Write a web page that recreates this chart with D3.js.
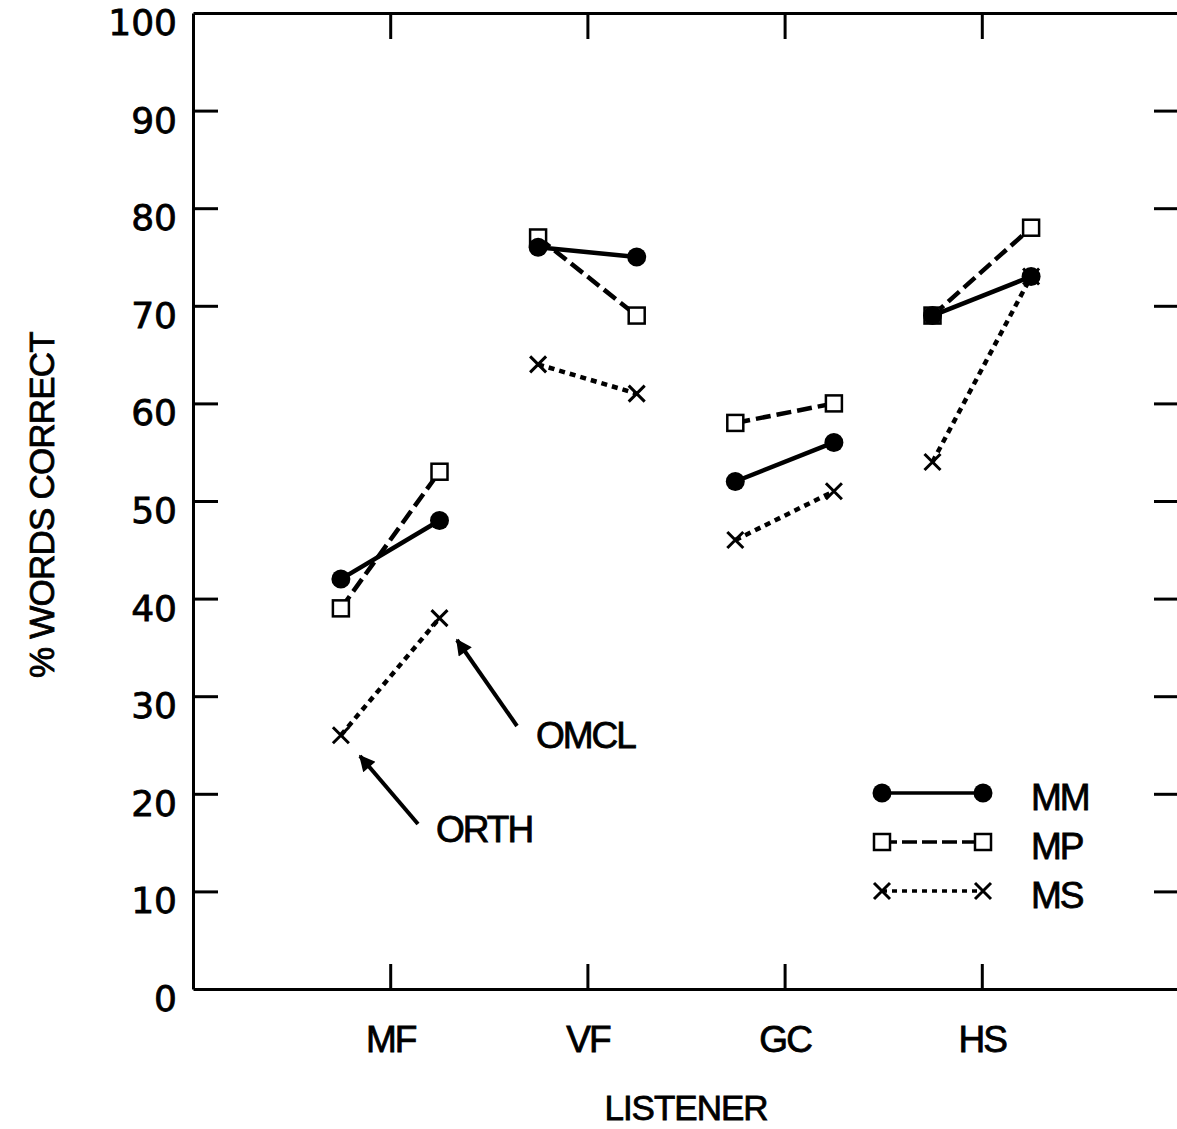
<!DOCTYPE html>
<html>
<head>
<meta charset="utf-8">
<script src="https://cdn.jsdelivr.net/npm/d3@7"></script>
<style>
  body { margin: 0; background: #fff; }
  svg text { font-family: "Liberation Sans", Arial, sans-serif; fill: #000; stroke: #000; stroke-width: 0.8px; }
  .axis path, .axis line { stroke: #000; stroke-width: 3; }
  .ytick text { font-family: "DejaVu Sans", sans-serif; font-size: 36px; }
</style>
</head>
<body>
<svg id="chart" width="1177" height="1129"></svg>
<script>
// listeners on the x axis, two conditions per listener
var listeners = ['MF', 'VF', 'GC', 'HS'];
var conditions = ['ORTH', 'OMCL'];
var yTicks = [0, 10, 20, 30, 40, 50, 60, 70, 80, 90, 100];

// % words correct, [ORTH, OMCL] for each listener
var mmValues = [[42, 48], [76, 75], [52, 56], [69, 73]];
var mpValues = [[39, 53], [77, 69], [58, 60], [69, 78]];
var msValues = [[26, 38], [64, 61], [46, 51], [54, 73]];

var seriesNames = ['MM', 'MP', 'MS'];

var svg = d3.select('#chart');

var plotLeft = 193, plotRight = 1179, plotTop = 13, plotBottom = 989;

var x = d3.scalePoint()
  .domain(listeners)
  .range([plotLeft, plotRight])
  .padding(1);

var sub = d3.scalePoint()
  .domain(conditions)
  .range([-0.25, 0.25]);

var y = d3.scaleLinear()
  .domain([0, 100])
  .range([plotBottom, plotTop]);

function px(listener, cond) {
  return x(listener) + sub(cond) * x.step();
}

// frame + ticks
svg.append('g')
  .attr('class', 'axis ytick')
  .attr('transform', 'translate(' + plotLeft + ',0)')
  .call(d3.axisLeft(y).tickValues(yTicks).tickSizeInner(-25).tickSizeOuter(0).tickPadding(16))
  .call(function(g) {
    g.selectAll('text').attr('y', 10);
    g.selectAll('.tick').filter(function(d) { return d === 0 || d === 100; }).select('line').remove();
  });

svg.append('g')
  .attr('class', 'axis')
  .attr('transform', 'translate(' + plotRight + ',0)')
  .call(d3.axisRight(y).tickValues(yTicks.slice(1, -1)).tickSizeInner(-25).tickSizeOuter(0).tickFormat(''));

svg.append('g')
  .attr('class', 'axis')
  .attr('transform', 'translate(0,' + plotTop + ')')
  .call(d3.axisTop(x).tickSizeInner(-26).tickSizeOuter(0).tickFormat(''));

svg.append('g')
  .attr('class', 'axis')
  .attr('transform', 'translate(0,' + plotBottom + ')')
  .call(d3.axisBottom(x).tickSizeInner(-25).tickSizeOuter(0).tickPadding(37))
  .call(function(g) {
    g.selectAll('text').style('font-size', '37px').attr('letter-spacing', '-2');
  });

// axis titles
svg.append('text')
  .attr('transform', 'translate(54,' + ((plotTop + plotBottom) / 2 + 4) + ') rotate(-90)')
  .attr('text-anchor', 'middle')
  .style('font-size', '35px')
  .attr('letter-spacing', '-0.8')
  .text('% WORDS CORRECT');

svg.append('text')
  .attr('x', 686)
  .attr('y', 1120)
  .attr('text-anchor', 'middle')
  .style('font-size', '35px')
  .attr('letter-spacing', '-1')
  .text('LISTENER');

// marker drawing
function drawMarker(g, type, cx, cy) {
  if (type === 'MM') {
    g.append('circle').attr('cx', cx).attr('cy', cy).attr('r', 9.5).attr('fill', '#000');
  } else if (type === 'MP') {
    g.append('rect').attr('x', cx - 8).attr('y', cy - 8).attr('width', 16).attr('height', 16)
      .attr('fill', '#fff').attr('stroke', '#000').attr('stroke-width', 2.5);
  } else {
    g.append('path')
      .attr('d', 'M' + (cx - 8) + ',' + (cy - 8) + 'L' + (cx + 8) + ',' + (cy + 8) +
        'M' + (cx + 8) + ',' + (cy - 8) + 'L' + (cx - 8) + ',' + (cy + 8))
      .attr('stroke', '#000').attr('stroke-width', 3).attr('fill', 'none');
  }
}

var dashes = { MM: null, MP: '15,6', MS: '6,5' };
var seriesData = { MM: mmValues, MP: mpValues, MS: msValues };
var drawOrder = ['MS', 'MP', 'MM'];

var lineG = svg.append('g');
var markG = svg.append('g');

drawOrder.forEach(function(name) {
  var vals = seriesData[name];
  listeners.forEach(function(l, i) {
    var pts = conditions.map(function(c, j) { return [px(l, c), y(vals[i][j])]; });
    lineG.append('path')
      .attr('d', d3.line()(pts))
      .attr('fill', 'none')
      .attr('stroke', '#000')
      .attr('stroke-width', 4.5)
      .attr('stroke-dasharray', dashes[name]);
  });
});

['MS', 'MP', 'MM'].forEach(function(name) {
  var vals = seriesData[name];
  listeners.forEach(function(l, i) {
    conditions.forEach(function(c, j) {
      drawMarker(markG, name, px(l, c), y(vals[i][j]));
    });
  });
});

// annotations
svg.append('defs').append('marker')
  .attr('id', 'arrow')
  .attr('viewBox', '0 0 10 10')
  .attr('refX', 9).attr('refY', 5)
  .attr('markerWidth', 6).attr('markerHeight', 4)
  .attr('markerUnits', 'strokeWidth')
  .attr('orient', 'auto')
  .append('path').attr('d', 'M0,0L10,5L0,10z').attr('fill', '#000');

var annotations = [
  { label: 'OMCL', from: [517, 726], to: [457, 640], tx: 536, ty: 748 },
  { label: 'ORTH', from: [418, 824], to: [360, 756], tx: 436, ty: 842 }
];

annotations.forEach(function(a) {
  svg.append('line')
    .attr('x1', a.from[0]).attr('y1', a.from[1])
    .attr('x2', a.to[0]).attr('y2', a.to[1])
    .attr('stroke', '#000').attr('stroke-width', 4)
    .attr('marker-end', 'url(#arrow)');
  svg.append('text')
    .attr('x', a.tx).attr('y', a.ty)
    .style('font-size', '37px')
    .attr('letter-spacing', '-2')
    .text(a.label);
});

// legend
var legend = svg.append('g');
seriesNames.forEach(function(name, i) {
  var ly = 793 + i * 49;
  legend.append('line')
    .attr('x1', 882).attr('x2', 983)
    .attr('y1', ly).attr('y2', ly)
    .attr('stroke', '#000').attr('stroke-width', 3.5)
    .attr('stroke-dasharray', name === 'MS' ? '5,5' : (name === 'MP' ? '15,5' : null));
  drawMarker(legend, name, 882, ly);
  drawMarker(legend, name, 983, ly);
  legend.append('text')
    .attr('x', 1031).attr('y', ly + 17)
    .style('font-size', '37px')
    .attr('letter-spacing', '-2')
    .text(name);
});
</script>
</body>
</html>
